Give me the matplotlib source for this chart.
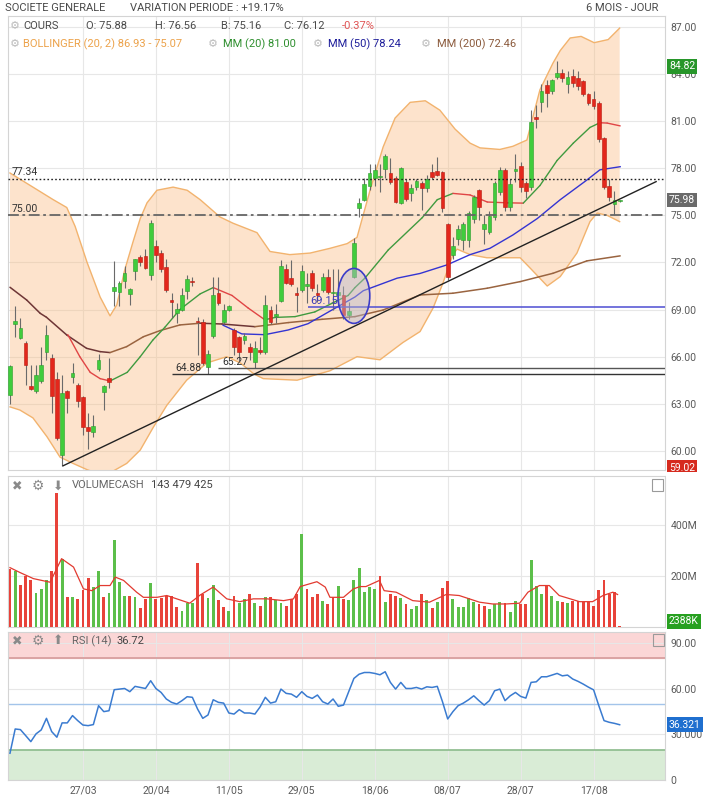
import matplotlib
matplotlib.use('Agg')
import matplotlib.pyplot as plt
import matplotlib.transforms as mtransforms
from matplotlib.patches import Ellipse, Rectangle, Polygon
import numpy as np

plt.rcParams['font.family'] = ['Roboto', 'DejaVu Sans']

# ---------------- data ----------------
dates = ['27/03', '20/04', '11/05', '29/05', '18/06', '08/07', '28/07', '17/08']
date_idx = [14, 28, 42, 56, 70, 84, 98, 112]

opens = [63.56, 68.1, 67.2, 66.9, 64.15, 63.8, 64.45, 66.3, 65.9, 64.6,
         59.75, 63.8, 64.7, 64.2, 63.4, 61.5, 61.2, 65.2, 63.75, 64.65,
         70.2, 70.1, 70.8, 70.0, 71.45, 72.35, 72.4, 71.2, 73.05, 72.6,
         71.7, 69.55, 68.8, 69.0, 70.2, 70.85, 68.25, 68.2, 65.35, 67.3,
         70.05, 68.2, 69.0, 67.7, 67.25, 67.05, 66.6, 65.65, 66.45, 66.3,
         69.0, 68.6, 69.55, 71.6, 71.0, 70.05, 70.25, 70.5, 71.3, 70.05,
         70.25, 71.1, 70.05, 69.95, 69.9, 68.65, 71.1, 75.5, 76.0, 76.85,
         77.4, 77.45, 77.95, 77.7, 77.4, 75.8, 77.1, 76.4, 76.8, 77.05,
         76.75, 77.75, 77.85, 77.75, 74.45, 72.5, 73.5, 73.45, 73.4, 74.8,
         76.6, 74.1, 73.95, 74.9, 76.5, 77.9, 75.55, 77.85, 78.15, 77.05,
         76.8, 81.25, 82.2, 83.3, 82.9, 83.8, 84.1, 83.4, 83.9, 83.75,
         83.55, 82.7, 82.4, 82.15, 79.9, 76.85, 75.72, 75.9]
closes = [65.4, 68.3, 67.8, 65.45, 63.95, 64.8, 65.45, 67.4, 63.5, 60.8,
          63.7, 63.35, 64.95, 63.2, 61.5, 61.25, 61.6, 65.8, 64.1, 64.4,
          70.45, 70.7, 71.3, 70.3, 72.2, 72.05, 71.65, 74.5, 72.5, 71.6,
          70.25, 69.5, 69.05, 69.9, 70.95, 70.75, 68.2, 65.6, 66.2, 69.9,
          69.4, 69.0, 69.2, 66.6, 66.3, 67.3, 66.3, 66.55, 66.3, 69.3,
          68.2, 68.7, 71.8, 70.7, 70.6, 69.95, 71.45, 70.6, 70.35, 69.9,
          71.1, 70.1, 70.1, 70.15, 68.65, 68.9, 73.25, 75.8, 77.0, 77.7,
          77.9, 77.5, 78.8, 77.1, 75.85, 78.0, 76.05, 76.75, 77.2, 76.75,
          77.3, 77.45, 77.6, 75.45, 71.1, 73.05, 74.1, 74.45, 75.15, 76.2,
          75.55, 74.45, 74.95, 77.05, 77.9, 75.55, 77.0, 77.95, 76.8, 76.55,
          80.95, 81.15, 82.9, 82.8, 83.6, 84.05, 83.75, 83.8, 83.45, 83.25,
          82.7, 82.15, 81.95, 79.85, 76.8, 76.15, 75.98, 75.98]
highs = [65.5, 69.2, 68.45, 67.0, 65.45, 65.5, 66.6, 68.0, 66.2, 65.0,
         64.8, 63.85, 65.6, 64.35, 63.5, 62.4, 62.3, 66.2, 64.2, 65.9,
         72.1, 70.8, 71.8, 70.4, 72.25, 72.5, 72.85, 74.7, 73.4, 72.8,
         72.2, 70.05, 69.4, 70.4, 71.2, 71.1, 68.5, 68.4, 66.4, 71.1,
         71.05, 69.35, 69.3, 67.8, 67.3, 67.5, 66.9, 67.0, 67.25, 69.9,
         69.2, 69.35, 72.15, 71.9, 72.15, 70.45, 71.85, 71.3, 71.5, 70.6,
         71.3, 71.6, 71.6, 71.6, 70.5, 69.5, 73.55, 76.1, 77.4, 78.3,
         78.25, 78.3, 78.9, 78.65, 77.5, 78.1, 77.3, 77.0, 77.3, 77.2,
         77.6, 78.3, 78.7, 77.8, 74.5, 73.6, 74.4, 74.6, 75.3, 76.3,
         76.7, 75.0, 75.3, 77.2, 78.1, 78.0, 77.3, 78.9, 78.4, 77.2,
         81.7, 82.0, 83.4, 83.6, 83.7, 84.82, 84.3, 84.2, 84.3, 84.2,
         83.6, 82.8, 82.9, 82.3, 80.0, 77.3, 76.56, 76.0]
lows = [63.0, 67.25, 67.1, 64.2, 63.9, 63.7, 64.3, 65.8, 62.4, 60.7,
        59.02, 62.4, 64.3, 62.8, 61.0, 60.1, 60.9, 65.1, 62.6, 64.0,
        69.2, 69.2, 70.4, 69.3, 70.9, 71.8, 71.6, 70.9, 72.0, 71.4,
        70.1, 68.45, 68.15, 68.9, 69.7, 70.5, 66.1, 65.5, 64.88, 67.2,
        69.3, 68.1, 68.9, 66.1, 65.7, 66.8, 65.8, 65.27, 66.2, 66.2,
        68.1, 68.15, 69.5, 70.6, 70.5, 68.85, 70.1, 69.4, 70.2, 69.5,
        70.1, 70.0, 69.0, 69.2, 68.4, 68.4, 71.0, 74.9, 75.9, 76.6,
        76.9, 76.5, 77.4, 77.0, 75.8, 75.7, 75.9, 75.9, 76.6, 75.35,
        76.5, 77.3, 77.5, 75.2, 70.9, 72.2, 73.1, 72.8, 73.0, 74.5,
        74.7, 73.2, 73.8, 74.7, 76.3, 75.3, 75.3, 77.1, 76.5, 76.1,
        76.6, 80.55, 81.6, 81.9, 82.7, 83.7, 83.5, 82.8, 83.2, 83.0,
        82.6, 82.0, 81.8, 79.7, 76.7, 75.9, 75.05, 75.85]

# volume in millions, and bar colour (g = up, r = down)
volume = [225, 218, 166, 201, 182, 134, 149, 182, 218, 524,
          267, 116, 116, 108, 145, 192, 156, 217, 119, 132,
          341, 175, 123, 123, 116, 73, 110, 171, 110, 114,
          121, 123, 80, 64, 93, 95, 249, 129, 112, 166,
          106, 80, 64, 123, 93, 111, 127, 95, 83, 119,
          119, 106, 95, 83, 110, 129, 365, 148, 116, 129,
          101, 88, 116, 160, 110, 106, 182, 231, 136, 158,
          149, 201, 97, 127, 123, 112, 90, 70, 84, 129,
          106, 75, 99, 152, 178, 108, 80, 80, 112, 99,
          88, 84, 69, 90, 99, 95, 57, 101, 90, 90,
          262, 162, 127, 162, 123, 103, 97, 93, 103, 103,
          97, 97, 81, 146, 184, 129, 136, 2.4]
vol_dir = list('rgrrrgggrr' 'grgrrrggrg' 'gggrgrrgrr' 'rrrgggrrgg'
               'rrgrggrgrg' 'rggrrrgrrr' 'grrgrggggg' 'grgrrgrggr'
               'grgrrggggg' 'rrgggrggrr' 'gggrggrgrr' 'rrrrrrrr')

# volume moving average (index, millions)
vma_x = [0, 1.9, 4.5, 7.7, 9.9, 12.2, 14.1, 15.7, 17.3, 19.2, 20.2, 21.8, 24.3, 25.6, 28.2,
         30.1, 32.0, 34.5, 36.5, 39.0, 41.6, 44.1, 46.7, 49.3, 52.5, 54.4, 55.7, 58.9, 60.5,
         61.4, 64.0, 65.9, 67.2, 68.3, 70.9, 71.8, 74.1, 77.3, 80.5, 83.7, 86.2, 90.1, 92.6,
         95.2, 97.8, 99.4, 101.6, 103.5, 105.4, 109.3, 111.8, 113.8, 115.7, 116.6]
vma_v = [232, 213, 189, 175, 267, 234, 149, 142, 162, 162, 195, 182, 136, 116, 116,
         123, 110, 93, 125, 156, 110, 99, 110, 110, 103, 110, 158, 177, 156,
         116, 116, 149, 158, 158, 182, 142, 136, 103, 97, 127, 123, 97, 90,
         90, 93, 136, 162, 162, 123, 99, 99, 123, 136, 127]

rsi = [17.6, 33.5, 33.1, 29.2, 25.2, 30.3, 32.9, 40.5, 31.8, 28.1,
       37.5, 37.5, 42.3, 39.0, 36.1, 35.7, 36.4, 48.8, 44.9, 45.5,
       59.3, 59.7, 60.1, 58.0, 61.5, 60.8, 60.1, 65.2, 60.1, 57.5,
       53.2, 51.0, 49.9, 52.1, 54.7, 54.3, 46.6, 40.5, 42.7, 52.7,
       51.0, 50.5, 44.0, 43.3, 46.2, 44.0, 44.0, 43.3, 48.0, 54.3,
       50.5, 51.4, 59.7, 56.9, 56.4, 54.3, 58.0, 54.9, 53.6, 55.8,
       51.4, 49.9, 53.2, 48.4, 49.2, 58.0, 66.7, 69.5, 70.6, 70.6,
       70.0, 69.1, 71.1, 64.1, 59.7, 64.1, 60.1, 60.1, 60.8, 59.7,
       61.2, 60.8, 61.5, 51.4, 40.1, 44.9, 48.8, 50.5, 52.7, 55.3,
       52.1, 49.2, 52.1, 58.6, 59.7, 52.1, 55.3, 57.5, 54.9, 53.8,
       64.1, 64.5, 67.8, 67.8, 68.9, 70.0, 68.4, 68.9, 66.3, 64.8,
       63.0, 61.0, 59.2, 48.8, 39.0, 37.9, 37.2, 36.3]

# Bollinger bands (index, value)
bbu_x = [0, 4.4, 8.3, 10.9, 12.5, 14.8, 17.3, 19.2, 20.5, 22.0, 23.6, 25.0, 26.3, 28.2, 31.3,
         34.0, 36.5, 40.3, 42.8, 47.4, 49.9, 53.7, 57.6, 61.4, 64.7, 66.6, 69.1, 71.6, 73.9,
         76.8, 79.7, 82.5, 85.4, 88.3, 90.2, 94.0, 96.5, 99.2, 101.7, 104.2, 105.6, 107.5,
         109.6, 112.1, 114.8, 117]
bbu_v = [77.7, 76.8, 76.0, 75.5, 74.3, 72.0, 69.8, 68.6, 69.3, 71.5, 73.3, 74.8, 75.8, 76.6, 76.8,
         76.6, 76.0, 74.9, 74.5, 73.9, 72.7, 72.5, 72.6, 72.9, 73.2, 73.6, 76.6, 79.35, 81.2,
         82.2, 82.3, 81.7, 80.5, 79.6, 79.3, 79.2, 79.4, 79.8, 83.0, 84.7, 85.5, 86.3,
         86.4, 86.0, 86.2, 86.93]
bbl_x = [0, 1.9, 4.4, 7.1, 9.6, 12.1, 14.8, 17.3, 19.2, 22.4, 25.0, 27.5, 30.1, 33.9, 37.8,
         41.6, 44.2, 46.8, 48.6, 55.1, 61.4, 66.6, 71.0, 75.4, 78.7, 81.2, 83.1, 85.0, 85.8,
         88.3, 91.5, 97.9, 99.8, 103.1, 105.6, 108.8, 111.3, 112.7, 114.6, 117]
bbl_v = [62.8, 62.6, 62.1, 60.9, 59.6, 59.2, 58.8, 58.5, 58.6, 59.2, 60.05, 61.5, 62.9, 64.5, 65.6,
         66.0, 65.6, 64.9, 64.6, 64.5, 65.1, 66.0, 65.8, 66.9, 67.6, 69.1, 70.7, 72.5, 72.85,
         72.5, 72.3, 72.3, 71.65, 70.5, 71.1, 72.6, 74.6, 75.15, 75.0, 74.6]

mm20_x = [11.1, 13.4, 15.4, 17.3, 19.2, 22.5, 25.0, 27.4, 29.8, 32.6, 36.5, 39.0, 42.6, 45.7,
          48.9, 50.9, 54.7, 58.5, 61.8, 64.9, 66.2, 68.1, 72.6, 79.1, 82.0, 85.0, 88.3, 91.6,
          95.4, 98.5, 101.7, 105.0, 108.1, 111.3, 113.2, 114.6, 117.1]
mm20_v = [67.4, 66.0, 65.0, 64.6, 64.45, 65.0, 66.0, 67.05, 67.9, 69.0, 70.0, 70.4, 69.9, 69.1,
          68.35, 68.5, 68.55, 68.85, 69.4, 69.9, 70.4, 71.0, 72.8, 74.85, 76.0, 76.4, 76.3, 75.85,
          75.8, 75.78, 76.9, 78.5, 79.6, 80.6, 80.9, 80.88, 80.7]
mm50_x = [40.9, 44.5, 48.9, 53.4, 57.2, 61.4, 66.2, 67.8, 74.3, 78.7, 83.9, 88.3, 92.1, 96.5,
          101.2, 105.6, 110.7, 113.2, 117.1]
mm50_v = [68.0, 67.45, 67.4, 67.7, 68.1, 68.9, 69.8, 70.2, 71.0, 71.3, 71.85, 72.5, 72.9, 73.75,
          74.8, 76.0, 77.25, 77.9, 78.1]
mm200_x = [0, 3.2, 5.8, 7.0, 10.9, 14.7, 17.3, 19.2, 22.4, 25.6, 28.8, 32.6, 36.5, 40.7, 47.0,
           53.4, 59.9, 66.2, 71.6, 78.7, 85.0, 91.6, 97.9, 104.2, 110.7, 117.1]
mm200_v = [70.42, 69.61, 68.76, 68.51, 67.38, 66.53, 66.32, 66.26, 66.64, 67.27, 67.66, 68.02,
           68.13, 68.08, 67.91, 68.17, 68.38, 68.55, 68.97, 69.93, 70.04, 70.36, 70.78, 71.31,
           72.1, 72.42]

# ---------------- figure ----------------
W, H = 706, 800
fig = plt.figure(figsize=(W / 100, H / 100), dpi=100)


def rect(x0, y0, x1, y1):
    return [x0 / W, 1 - y1 / H, (x1 - x0) / W, (y1 - y0) / H]


def fx(x):
    return x / W


def fy(y):
    return 1 - y / H


XL = (-0.38, 125.7)
GRID = '#e7e7e7'
TXT = '#5a5a5a'

axp = fig.add_axes(rect(8, 16, 665, 470))
axv = fig.add_axes(rect(8, 476, 665, 627))
axr = fig.add_axes(rect(8, 632, 665, 780))

for ax in (axp, axv, axr):
    ax.set_xlim(*XL)
    for s in ax.spines.values():
        s.set_color('#d4d4d4')
        s.set_linewidth(0.8)
    ax.yaxis.tick_right()
    ax.tick_params(length=0, labelsize=7.5, labelcolor=TXT, pad=4)
    ax.set_xticks(date_idx)
    ax.set_xticklabels([])
    ax.grid(True, color=GRID, lw=0.8)
    ax.set_axisbelow(True)


def slope_line(ax, xs, vs, up, down, lw=1.0, z=3):
    for k in range(len(xs) - 1):
        col = up if vs[k + 1] > vs[k] else down
        ax.plot(xs[k:k + 2], vs[k:k + 2], color=col, lw=lw, zorder=z,
                solid_capstyle='round')


def tag(ax, y, s, fc, va='center'):
    tr = mtransforms.blended_transform_factory(ax.transAxes, ax.transData)
    ax.text(1.006, y, s, transform=tr, ha='left', va=va, fontsize=7.5, color='white',
            bbox=dict(boxstyle='square,pad=0.22', fc=fc, ec='none'), zorder=10, clip_on=False)


# ---------- price panel ----------
axp.set_ylim(58.78, 87.70)
pt = [60, 63, 66, 69, 72, 75, 78, 81, 84, 87]
axp.set_yticks(pt)
axp.set_yticklabels(['%.2f' % v for v in pt])

poly = np.column_stack([np.r_[bbu_x, bbl_x[::-1]], np.r_[bbu_v, bbl_v[::-1]]])
axp.add_patch(Polygon(poly, closed=True, facecolor='#fabb80', alpha=0.40,
                      edgecolor='none', zorder=1))
axp.plot(bbu_x, bbu_v, color='#f2b36e', lw=1.0, zorder=2)
axp.plot(bbl_x, bbl_v, color='#f2b36e', lw=1.0, zorder=2)

slope_line(axp, mm200_x, mm200_v, '#9a6440', '#6e3636', lw=1.1, z=3)
axp.plot(mm50_x, mm50_v, color='#3434d2', lw=1.0, zorder=3)
slope_line(axp, mm20_x, mm20_v, '#3f9a3f', '#e04545', lw=1.0, z=3)

idx = np.arange(len(opens))
o = np.array(opens)
c = np.array(closes)
up = c >= o
body_col = np.where(up, '#40cc3c', '#e3271c')
edge_col = np.where(up, '#2c9c2c', '#b81a10')
axp.vlines(idx, lows, highs, color='#6a6a6a', lw=0.8, zorder=4)
axp.bar(idx, np.maximum(np.abs(c - o), 0.08), bottom=np.minimum(o, c), width=0.72,
        color=body_col, edgecolor=edge_col, linewidth=0.4, zorder=5)

axp.axhline(77.34, color='#222222', ls=(0, (1.2, 1.6)), lw=1.0, zorder=6)
axp.axhline(75.0, color='#666666', ls=(0, (6, 2, 1.5, 2)), lw=1.3, zorder=6)
axp.hlines(69.15, 57.1, XL[1], color='#4d4dd2', lw=1.1, zorder=6)
axp.hlines(64.88, 31.1, XL[1], color='#333333', lw=1.0, zorder=6)
axp.hlines(65.27, 39.9, XL[1], color='#555555', lw=1.0, zorder=6)
axp.plot([10.2, 124.0], [59.05, 77.15], color='#222222', lw=1.0, zorder=6)

axp.add_patch(Ellipse((66.0, 69.87), 6.1, 3.5, facecolor=(0.72, 0.72, 0.80, 0.45),
                      edgecolor='#3c3cc8', lw=1.2, zorder=7))

axp.text(0.3, 77.42, '77.34', fontsize=7.5, color='#333333', va='bottom', zorder=8)
axp.text(0.3, 75.08, '75.00', fontsize=7.5, color='#333333', va='bottom', zorder=8)
axp.text(31.7, 64.95, '64.88', fontsize=7.5, color='#333333', va='bottom', zorder=8)
axp.text(40.7, 65.33, '65.27', fontsize=7.5, color='#333333', va='bottom', zorder=8)
axp.text(57.6, 69.2, '69.15', fontsize=8, color='#3a3ab8', va='bottom', zorder=8)

tag(axp, 84.82, '84.82', '#27962a', va='top')
tag(axp, 75.98, '75.98', '#6a6a6a')
tag(axp, 59.25, '59.02', '#d62a1e', va='top')

# ---------- volume panel ----------
axv.set_ylim(0, 590)
axv.set_yticks([200, 400])
axv.set_yticklabels(['200M', '400M'])
vcol = ['#5cbf4a' if d == 'g' else '#e8433a' for d in vol_dir]
axv.bar(idx, volume, width=0.55, color=vcol, zorder=3)
axv.plot(vma_x, vma_v, color='#e23a30', lw=0.9, zorder=4)
tag(axv, 2.4, '2388K', '#27a020', va='bottom')

# white strip hiding the overflow of the low-price tag, as in the reference
fig.add_artist(Rectangle((fx(666), fy(478)), 40 / W, 6 / H, transform=fig.transFigure,
                         fc='white', ec='none', zorder=5))

# ---------- RSI panel ----------
axr.set_ylim(0, 97.2)
axr.set_yticks([0, 30, 60, 90])
axr.set_yticklabels(['0', '30.000', '60.00', '90.00'])
axr.axhspan(80, 100, color='#fbd6d6', zorder=0)
axr.axhspan(0, 20, color='#d9ecd6', zorder=0)
axr.axhline(80, color='#d59a9a', lw=1.2, zorder=1)
axr.axhline(20, color='#8cbb8c', lw=1.2, zorder=1)
axr.axhline(50, color='#a3c4ea', lw=1.0, zorder=1)
axr.plot(idx, rsi, color='#3a7bd0', lw=1.1, zorder=4)
tag(axr, 36.321, '36.321', '#1f6fcf')
axr.set_xticklabels(dates)
axr.tick_params(axis='x', labelsize=7.5, labelcolor=TXT, pad=4)

# ---------- header texts ----------
fig.text(fx(5), fy(8), 'SOCIETE GENERALE', fontsize=8, color='#4a4a4a', va='center')
fig.text(fx(130), fy(8), 'VARIATION PERIODE : +19.17%', fontsize=8, color='#4a4a4a', va='center')
fig.text(fx(658), fy(8), '6 MOIS - JOUR', fontsize=8, color='#4a4a4a', va='center', ha='right')

row2 = 26
fig.text(fx(10), fy(row2), '⚙', fontsize=8, color='#bbbbbb', va='center')
fig.text(fx(23), fy(row2), 'COURS', fontsize=8, color='#4a4a4a', va='center')
fig.text(fx(86), fy(row2), 'O: 75.88', fontsize=8, color='#4a4a4a', va='center')
fig.text(fx(155), fy(row2), 'H: 76.56', fontsize=8, color='#4a4a4a', va='center')
fig.text(fx(221), fy(row2), 'B: 75.16', fontsize=8, color='#4a4a4a', va='center')
fig.text(fx(284), fy(row2), 'C: 76.12', fontsize=8, color='#4a4a4a', va='center')
fig.text(fx(342), fy(row2), '-0.37%', fontsize=8, color='#e05555', va='center')

row3 = 44
fig.text(fx(10), fy(row3), '⚙', fontsize=8, color='#bbbbbb', va='center')
fig.text(fx(23), fy(row3), 'BOLLINGER (20, 2) 86.93 - 75.07', fontsize=8, color='#eca24a', va='center')
fig.text(fx(208), fy(row3), '⚙', fontsize=8, color='#bbbbbb', va='center')
fig.text(fx(223), fy(row3), 'MM (20) 81.00', fontsize=8, color='#2f8f2f', va='center')
fig.text(fx(313), fy(row3), '⚙', fontsize=8, color='#bbbbbb', va='center')
fig.text(fx(328), fy(row3), 'MM (50) 78.24', fontsize=8, color='#1c1c9a', va='center')
fig.text(fx(421), fy(row3), '⚙', fontsize=8, color='#bbbbbb', va='center')
fig.text(fx(437), fy(row3), 'MM (200) 72.46', fontsize=8, color='#8b5a3c', va='center')

# volume header
fig.text(fx(12), fy(486), '✖', fontsize=9, color='#8a8a8a', va='center')
fig.text(fx(32), fy(486), '⚙', fontsize=10, color='#8a8a8a', va='center')
fig.text(fx(53), fy(486), '⬇', fontsize=9, color='#8a8a8a', va='center')
fig.text(fx(72), fy(485), 'VOLUMECASH', fontsize=8, color='#666666', va='center')
fig.text(fx(151), fy(485), '143 479 425', fontsize=8, color='#444444', va='center')
fig.add_artist(Rectangle((fx(652), fy(491)), 11 / W, 12 / H, transform=fig.transFigure,
                         fill=False, ec='#9a9a9a', lw=0.8))

# RSI header
fig.text(fx(12), fy(641), '✖', fontsize=9, color='#8a8a8a', va='center')
fig.text(fx(32), fy(641), '⚙', fontsize=10, color='#8a8a8a', va='center')
fig.text(fx(53), fy(641), '⬆', fontsize=9, color='#8a8a8a', va='center')
fig.text(fx(72), fy(641), 'RSI (14)', fontsize=8, color='#666666', va='center')
fig.text(fx(116), fy(641), '36.72', fontsize=8, color='#444444', va='center')
fig.add_artist(Rectangle((fx(653), fy(646)), 11 / W, 12 / H, transform=fig.transFigure,
                         fill=False, ec='#9a9a9a', lw=0.8))

fig.savefig('out.png', dpi=100)
